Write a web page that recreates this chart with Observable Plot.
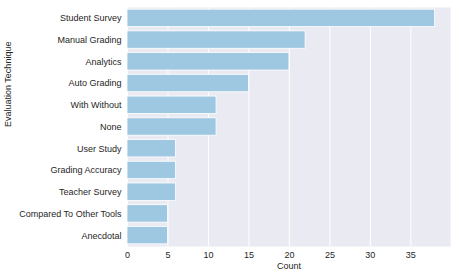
<!DOCTYPE html>
<html>
<head>
<meta charset="utf-8">
<script src="https://cdn.jsdelivr.net/npm/d3@7"></script>
<script src="https://cdn.jsdelivr.net/npm/@observablehq/plot@0.6"></script>
<style>
  html, body { margin: 0; padding: 0; background: #fff; }
  svg { display: block; }
</style>
</head>
<body>
<div id="chart"></div>
<script>
const categories = ["Student Survey", "Manual Grading", "Analytics", "Auto Grading", "With Without", "None", "User Study", "Grading Accuracy", "Teacher Survey", "Compared To Other Tools", "Anecdotal"];
const counts = [38, 22, 20, 15, 11, 11, 6, 6, 6, 5, 5];
const xTicks = [0, 5, 10, 15, 20, 25, 30, 35];

const data = categories.map((c, i) => ({technique: c, count: counts[i]}));
const textColor = "#262626";

const chart = Plot.plot({
  width: 457,
  height: 280,
  marginLeft: 127,
  marginRight: 7,
  marginTop: 7,
  marginBottom: 34,
  style: {fontFamily: "'Liberation Sans', Arial, sans-serif", fontSize: "9px", color: textColor, background: "#fff"},
  x: {domain: [0, 39.9]},
  y: {domain: categories, paddingInner: 0.2, paddingOuter: 0.1, round: false},
  marks: [
    Plot.frame({fill: "#eaeaf2", stroke: null}),
    Plot.gridX(xTicks, {stroke: "#fff", strokeOpacity: 1, strokeWidth: 1}),
    Plot.barX(data, {x: "count", y: "technique", fill: "#9ec8e1", stroke: "#fff", strokeWidth: 0.8}),
    Plot.axisX(xTicks, {tickSize: 0, tickPadding: 5, label: null, fill: textColor, fontSize: 9}),
    Plot.axisY({tickSize: 0, tickPadding: 6, label: null, fill: textColor, fontSize: 9}),
    Plot.text(["Count"], {frameAnchor: "bottom", dy: 22, fill: textColor, fontSize: 9}),
    Plot.text(["Evaluation Technique"], {frameAnchor: "left", dx: -119, rotate: -90, fill: textColor, fontSize: 9})
  ]
});
document.getElementById("chart").appendChild(chart);
</script>
</body>
</html>
